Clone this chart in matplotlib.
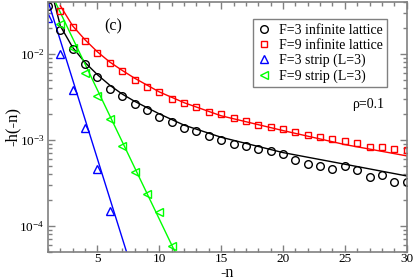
import numpy as np
import matplotlib
matplotlib.use('Agg')
import matplotlib.pyplot as plt
from matplotlib.ticker import MultipleLocator, LogLocator, NullFormatter

plt.rcParams['font.family'] = ['Liberation Serif', 'DejaVu Serif']
plt.rcParams['mathtext.fontset'] = 'stix'

# ---- data ----
n_inf = list(range(1, 31))
h_f3_inf = [0.036, 0.019, 0.0114, 0.0077, 0.0053, 0.0039, 0.0032, 0.0026, 0.0022, 0.00186,
            0.00162, 0.00138, 0.00126, 0.00111, 0.00100, 0.00089, 0.00085, 0.00079, 0.00074, 0.00069,
            0.00058, 0.00052, 0.00050, 0.00046, 0.00049, 0.00044, 0.00037, 0.00039, 0.00032, 0.00032]
n_f9 = list(range(2, 31))
h_f9_inf = [0.031, 0.0206, 0.0142, 0.0103, 0.0079, 0.0063, 0.0050, 0.0041, 0.0036,
            0.0030, 0.0027, 0.0024, 0.0021, 0.0020, 0.00178, 0.00166, 0.0015, 0.0014, 0.00132,
            0.00123, 0.00115, 0.00108, 0.00103, 0.00098, 0.00091, 0.00083, 0.00082, 0.00078, 0.00076]
n_f3_strip = [1, 2, 3, 4, 5, 6]
h_f3_strip = [0.026, 0.0099, 0.0038, 0.00136, 0.00046, 0.000148]
n_f9_strip = [2, 3, 4, 5, 6, 7, 8, 9, 10, 11]
h_f9_strip = [0.022, 0.0117, 0.0060, 0.0032, 0.00174, 0.00085, 0.00042, 0.000234, 0.000144, 0.000059]

# fitted curves
fit_f3_x = [1.5, 2, 3, 4, 5, 6, 7, 8, 10, 12, 15, 20, 25, 30]
fit_f3_y = [0.040, 0.021, 0.0118, 0.0079, 0.0057, 0.0043, 0.0034, 0.0028, 0.0020, 0.00148,
            0.00107, 0.00071, 0.00052, 0.00038]
fit_f9_x = [2, 3, 4, 5, 6, 7, 8, 10, 12, 15, 20, 25, 30]
fit_f9_y = [0.036, 0.021, 0.0145, 0.0105, 0.0080, 0.0064, 0.0052, 0.0036, 0.0027, 0.0019,
            0.00128, 0.00088, 0.00065]
fit_f3s_x = [1, 8]
fit_f3s_y = [0.041, 0.000025]
fit_f9s_x = [1, 12]
fit_f9s_y = [0.06, 0.00003]

fig = plt.figure(figsize=(4.15, 2.8), dpi=100)
ax = fig.add_axes([0.1157, 0.101, 0.8643, 0.892])

ms = 5.5
ax.plot(fit_f3_x, fit_f3_y, color='black', lw=1)
ax.plot(fit_f9_x, fit_f9_y, color='red', lw=1)
ax.plot(fit_f3s_x, fit_f3s_y, color='blue', lw=1)
ax.plot(fit_f9s_x, fit_f9s_y, color='#00ff00', lw=1)

ax.plot(n_inf, h_f3_inf, 'o', mfc='none', mec='black', ms=ms, mew=1, label='F=3 infinite lattice')
ax.plot(n_f9, h_f9_inf, 's', mfc='none', mec='red', ms=ms - 0.5, mew=1, label='F=9 infinite lattice')
ax.plot(n_f3_strip, h_f3_strip, '^', mfc='none', mec='blue', ms=ms, mew=1, label='F=3 strip (L=3)')
ax.plot(n_f9_strip, h_f9_strip, '<', mfc='none', mec='#00ff00', ms=ms, mew=1, label='F=9 strip (L=3)')

ax.set_yscale('log')
ax.set_xlim(1, 30)
ax.set_ylim(5e-5, 0.04)

ax.xaxis.set_major_locator(MultipleLocator(5))
ax.xaxis.set_minor_locator(MultipleLocator(1))
ax.yaxis.set_major_locator(LogLocator(base=10, numticks=10))
ax.yaxis.set_minor_locator(LogLocator(base=10, subs=np.arange(2, 10), numticks=20))
ax.yaxis.set_minor_formatter(NullFormatter())

gray = '#808080'
for s in ax.spines.values():
    s.set_color(gray)
    s.set_linewidth(1.2)
ax.tick_params(which='both', direction='in', top=True, right=True, color=gray, labelsize=9.5)
ax.tick_params(which='major', length=5, width=1, pad=2.5)
ax.tick_params(which='minor', length=3, width=1)
ax.tick_params(axis='x', which='major', pad=1)

ax.set_xlabel('-n', fontsize=11.5, va='baseline')
ax.set_ylabel('-h(-n)', fontsize=12, va='center')
ax.xaxis.set_label_coords(0.499, -0.101)
ax.yaxis.set_label_coords(-0.097, 0.503)

ax.text(0.272, 0.907, '(c)', transform=fig.transFigure, fontsize=11.5, ha='center', va='center')
ax.text(0.887, 0.628, 'ρ=0.1', transform=fig.transFigure, fontsize=10, ha='center', va='center')

leg = ax.legend(loc='upper right', bbox_to_anchor=(0.945, 0.93), fontsize=10, numpoints=1,
                handlelength=1.0, handletextpad=0.6, borderpad=0.3, labelspacing=0.15,
                fancybox=False, framealpha=1, borderaxespad=0)
leg.get_frame().set_edgecolor(gray)
leg.get_frame().set_linewidth(1)

fig.savefig('out.png', dpi=100)
